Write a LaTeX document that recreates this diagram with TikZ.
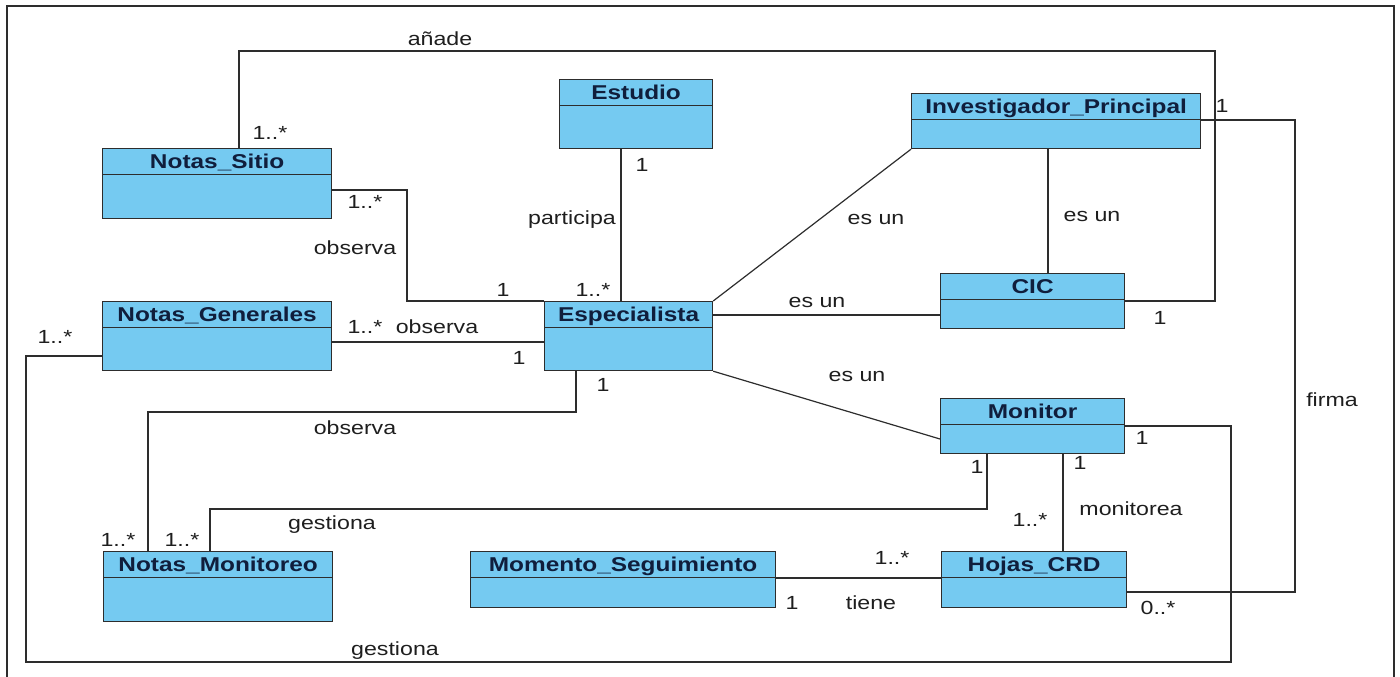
\documentclass[tikz,border=0pt]{standalone}
\usepackage{fontspec}
\setmainfont{Liberation Sans}[FakeStretch=1.22]
\definecolor{clsfill}{RGB}{117,202,241}
\definecolor{clsink}{RGB}{16,30,60}
\definecolor{wire}{RGB}{45,45,45}
\definecolor{labelink}{RGB}{30,30,30}
\tikzset{
  clsbody/.style={draw=wire, line width=1.2pt, fill=clsfill, inner sep=0pt, anchor=north west},
  clshead/.style={draw=wire, line width=1.2pt, fill=clsfill, inner sep=0pt, anchor=north west,
    minimum height=26pt, text height=14pt, text depth=0pt, text=clsink,
    font=\fontsize{20pt}{22pt}\selectfont\bfseries},
  assoc/.style={draw=wire, line width=1.2pt},
  lbl/.style={inner sep=0pt, text height=13.6pt, text depth=0pt, text=labelink,
    font=\fontsize{19pt}{21pt}\selectfont},
}
% \umlclass{name}{x}{y}{width}{height}{title}: class box with an empty attribute part
\newcommand{\umlclass}[6]{%
  \node[clsbody, minimum width=#4pt, minimum height=#5pt] (#1) at (#2,#3) {};
  \node[clshead, minimum width=#4pt] (#1-h) at (#2,#3) {#6};
}
\begin{document}
\begin{tikzpicture}[x=1pt,y=-1pt]
\useasboundingbox (0,0) rectangle (1400,677);
\clip (0,0) rectangle (1400,677);
% outer frame
\draw[wire, line width=1.5pt] (7,690) -- (7,6) -- (1394,6) -- (1394,690);

% classes
\umlclass{ns}{102}{148}{229}{70}{Notas\_Sitio}
\umlclass{ng}{102}{301}{229}{69}{Notas\_Generales}
\umlclass{nm}{103}{551}{229}{70}{Notas\_Monitoreo}
\umlclass{est}{559}{79}{153}{69}{Estudio}
\umlclass{sp}{544}{301}{168}{69}{Especialista}
\umlclass{ms}{470}{551}{305}{56}{Momento\_Seguimiento}
\umlclass{ip}{911}{93}{289}{55}{Investigador\_Principal}
\umlclass{cic}{940}{273}{184}{55}{CIC}
\umlclass{mo}{940}{398}{184}{55}{Monitor}
\umlclass{hc}{941}{551}{185}{56}{Hojas\_CRD}

% associations
\draw[assoc] (ns.north -| 239,0) |- (1215,51) |- (cic.east |- 0,301);
\draw[assoc] (ns.east |- 0,190) -| (407,301) -- (sp.north west);
\draw[assoc] (est.south -| 621,0) -- (sp.north -| 621,0);
\draw[assoc] (ng.east |- 0,342) -- (sp.west |- 0,342);
\draw[assoc] (sp.south -| 576,0) |- (148,412) -- (nm.north -| 148,0);
\draw[assoc] (ng.west |- 0,356) -| (26,662) -| (1231,426) -- (mo.east |- 0,426);
\draw[assoc] (nm.north -| 210,0) |- (987,509) -- (mo.south -| 987,0);
\draw[assoc] (ms.east |- 0,578) -- (hc.west |- 0,578);
\draw[assoc] (mo.south -| 1063,0) -- (hc.north -| 1063,0);
\draw[assoc] (hc.east |- 0,592) -| (1295,120) -- (ip.east |- 0,120);
\draw[assoc] (sp.north east) -- (ip.south west);
\draw[assoc] (sp.east |- 0,315) -- (cic.west |- 0,315);
\draw[assoc] (sp.south east) -- (mo.west |- 0,439);
\draw[assoc] (ip.south -| 1048,0) -- (cic.north -| 1048,0);

% association names and multiplicities
\node[lbl] (t-anade) at (440,39) {añade};
\node[lbl] (m-ns-top) at (270,133) {1..*};
\node[lbl] (m-ns-right) at (365,202) {1..*};
\node[lbl] (t-obs1) at (355,248) {observa};
\node[lbl] (m-sp-obs1) at (503,290) {1};
\node[lbl] (m-est) at (642,165) {1};
\node[lbl] (t-part) at (572,218) {participa};
\node[lbl] (m-sp-part) at (593,290) {1..*};
\node[lbl] (m-ng-right) at (365,327) {1..*};
\node[lbl] (t-obs2) at (437,327) {observa};
\node[lbl] (m-sp-obs2) at (519,358) {1};
\node[lbl] (m-sp-obs3) at (603,385) {1};
\node[lbl] (t-obs3) at (355,428) {observa};
\node[lbl] (m-ng-left) at (55,337) {1..*};
\node[lbl] (m-nm-a) at (118,540) {1..*};
\node[lbl] (m-nm-b) at (182,540) {1..*};
\node[lbl] (t-gest1) at (332,523) {gestiona};
\node[lbl] (t-gest2) at (395,649) {gestiona};
\node[lbl] (t-esun1) at (876,218) {es un};
\node[lbl] (t-esun2) at (817,301) {es un};
\node[lbl] (t-esun3) at (857,375) {es un};
\node[lbl] (t-esun4) at (1092,215) {es un};
\node[lbl] (m-ip) at (1222,106) {1};
\node[lbl] (m-cic) at (1160,318) {1};
\node[lbl] (t-firma) at (1332,400) {firma};
\node[lbl] (m-mo-right) at (1142,438) {1};
\node[lbl] (m-mo-gest) at (977,467) {1};
\node[lbl] (m-mo-mon) at (1080,463) {1};
\node[lbl] (m-hc-top) at (1030,520) {1..*};
\node[lbl] (t-monit) at (1131,509) {monitorea};
\node[lbl] (m-hc-left) at (892,558) {1..*};
\node[lbl] (m-ms) at (792,603) {1};
\node[lbl] (t-tiene) at (871,603) {tiene};
\node[lbl] (m-hc-right) at (1158,608) {0..*};
\end{tikzpicture}
\end{document}
